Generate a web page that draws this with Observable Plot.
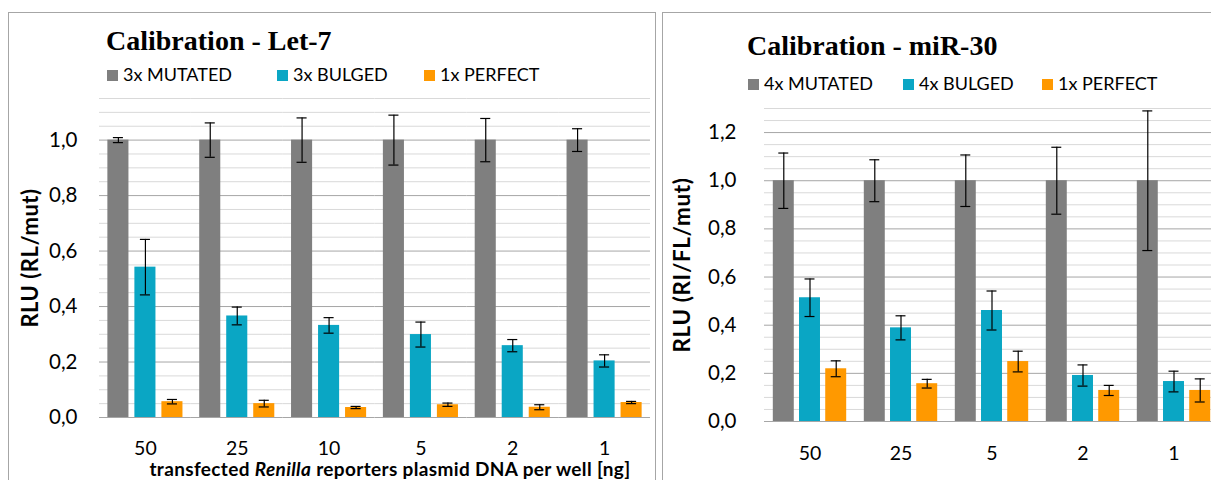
<!DOCTYPE html>
<html><head><meta charset="utf-8">
<script src="https://cdn.jsdelivr.net/npm/d3@7"></script>
<script src="https://cdn.jsdelivr.net/npm/@observablehq/plot@0.6"></script>
<style>
body{margin:0;background:#fff;}
#root{position:relative;width:1211px;height:480px;overflow:hidden;background:#fff;font-family:Lato,sans-serif;color:#000;}
.frame{position:absolute;border:1px solid #a6a6a6;box-sizing:border-box;}
.title{position:absolute;font-family:"Liberation Serif",serif;font-weight:bold;font-size:28px;line-height:28px;white-space:nowrap;}
.litem{position:absolute;font-size:18px;line-height:18px;white-space:nowrap;}
.litem .sw{display:inline-block;width:11px;height:11px;margin-right:5px;}
.ylab{position:absolute;font-weight:bold;white-space:nowrap;transform:translate(-50%,-50%) rotate(-90deg);line-height:1;}
.xlab{position:absolute;font-weight:bold;white-space:nowrap;transform:translateX(-50%);line-height:1;}
.plot{position:absolute;top:0;}
</style></head><body><div id="root"></div>
<script>
// ---- Data: Calibration - Let-7 ----
const letCats = ["50", "25", "10", "5", "2", "1"];
const letSeries = ["3x MUTATED", "3x BULGED", "1x PERFECT"];
const letMut = [1, 1, 1, 1, 1, 1];
const letMutErr = [0.009, 0.062, 0.08, 0.09, 0.078, 0.041];
const letBul = [0.542, 0.366, 0.332, 0.299, 0.259, 0.204];
const letBulErr = [0.10, 0.032, 0.028, 0.045, 0.022, 0.022];
const letPer = [0.057, 0.050, 0.036, 0.046, 0.037, 0.054];
const letPerErr = [0.008, 0.012, 0.004, 0.006, 0.009, 0.004];
const letTicks = [0, 0.2, 0.4, 0.6, 0.8, 1.0];

// ---- Data: Calibration - miR-30 ----
const mirCats = ["50", "25", "5", "2", "1"];
const mirSeries = ["4x MUTATED", "4x BULGED", "1x PERFECT"];
const mirMut = [1, 1, 1, 1, 1];
const mirMutErr = [0.115, 0.087, 0.107, 0.139, 0.29];
const mirBul = [0.514, 0.389, 0.461, 0.191, 0.166];
const mirBulErr = [0.078, 0.05, 0.081, 0.044, 0.043];
const mirPer = [0.219, 0.157, 0.249, 0.129, 0.129];
const mirPerErr = [0.033, 0.018, 0.043, 0.021, 0.048];
const mirTicks = [0, 0.2, 0.4, 0.6, 0.8, 1.0, 1.2];

const colors = ["#7f7f7f", "#0aa6c4", "#ff9900"];

const root = document.getElementById("root");
const fmt = d => d.toFixed(1).replace(".", ",");

function el(tag, cls, style, html) {
  const e = document.createElement(tag);
  if (cls) e.className = cls;
  Object.assign(e.style, style || {});
  if (html != null) e.innerHTML = html;
  root.appendChild(e);
  return e;
}

function panel(cfg) {
  const rows = cfg.cats.flatMap((c, i) => cfg.series.map((s, j) => ({
    cat: c, series: s, value: cfg.values[j][i], err: cfg.errors[j][i]
  })));
  const minor = d3.range(0, cfg.yMax + 1e-9, 0.05).filter(v => Math.abs(v / 0.2 - Math.round(v / 0.2)) > 1e-6);
  const inset = cfg.capInset;
  const chart = Plot.plot({
    width: cfg.width, height: 480,
    marginLeft: cfg.ml, marginRight: cfg.mr, marginTop: cfg.mt, marginBottom: cfg.mb,
    style: {fontFamily: "Lato, sans-serif", fontSize: "19.5px", color: "#000", background: "transparent", overflow: "visible"},
    fx: {domain: cfg.cats, padding: 0, round: false},
    x: {domain: cfg.series, paddingInner: cfg.pi, paddingOuter: cfg.po, round: false, axis: null},
    y: {domain: [0, cfg.yMax], axis: null},
    color: {domain: cfg.series, range: colors},
    marks: [
      Plot.ruleY(minor, {stroke: "#d9d9d9", strokeWidth: 1}),
      Plot.ruleY(cfg.ticks, {stroke: "#a6a6a6", strokeWidth: 1}),
      Plot.barY(rows, {fx: "cat", x: "series", y: "value", fill: "series"}),
      Plot.ruleX(rows, {fx: "cat", x: "series", y1: d => d.value - d.err, y2: d => d.value + d.err, stroke: "#000", strokeWidth: 1.2}),
      Plot.tickY(rows, {fx: "cat", x: "series", y: d => d.value + d.err, insetLeft: inset, insetRight: inset, stroke: "#000", strokeWidth: 1.2}),
      Plot.tickY(rows, {fx: "cat", x: "series", y: d => d.value - d.err, insetLeft: inset, insetRight: inset, stroke: "#000", strokeWidth: 1.2}),
      Plot.axisFx({anchor: "bottom", tickSize: 0, tickPadding: cfg.fxPad, label: null, fontSize: 19.5}),
      Plot.axisY(cfg.ticks, {anchor: "left", tickSize: 0, tickPadding: cfg.yPad, tickFormat: fmt, label: null, fontSize: 20.5})
    ]
  });
  chart.classList.add("plot");
  chart.style.left = cfg.left + "px";
  root.appendChild(chart);
}

// frames
el("div", "frame", {left: "8px", top: "12px", width: "648px", height: "480px"});
el("div", "frame", {left: "662px", top: "12px", width: "600px", height: "480px"});

panel({cats: letCats, series: letSeries, values: [letMut, letBul, letPer], errors: [letMutErr, letBulErr, letPerErr],
  ticks: letTicks, yMax: 1.15, left: 0, width: 655, ml: 99, mr: 5, mt: 98, mb: 63,
  pi: 0.22, po: 0.31, capInset: 5.5, fxPad: 24, yPad: 22});
panel({cats: mirCats, series: mirSeries, values: [mirMut, mirBul, mirPer], errors: [mirMutErr, mirBulErr, mirPerErr],
  ticks: mirTicks, yMax: 1.3, left: 662, width: 560, ml: 102, mr: 3, mt: 108, mb: 59,
  pi: 0.2, po: 0.336, capInset: 5.5, fxPad: 25, yPad: 28});

// titles
el("div", "title", {left: "106px", top: "26.5px"}, "Calibration - Let-7");
el("div", "title", {left: "747px", top: "31.5px"}, "Calibration - miR-30");

// legends (one item per series, placed like the reference)
function legend(series, lefts, top) {
  series.forEach((s, i) => {
    el("div", "litem", {left: lefts[i] + "px", top: top + "px"},
      `<span class="sw" style="background:${colors[i]}"></span>${s}`);
  });
}
legend(letSeries, [107, 277, 424], 64.8);
legend(mirSeries, [748, 903, 1042], 74.2);

// axis titles
el("div", "ylab", {left: "30px", top: "257.5px", fontSize: "22px", letterSpacing: "0.5px"}, "RLU (RL/mut)");
el("div", "ylab", {left: "682px", top: "264.5px", fontSize: "22.5px", letterSpacing: "0.6px"}, "RLU (RI/FL/mut)");
el("div", "xlab", {left: "390px", top: "459px", fontSize: "19px", letterSpacing: "0.35px"}, "transfected <i>Renilla</i> reporters plasmid DNA per well [ng]");
</script>
</body></html>
